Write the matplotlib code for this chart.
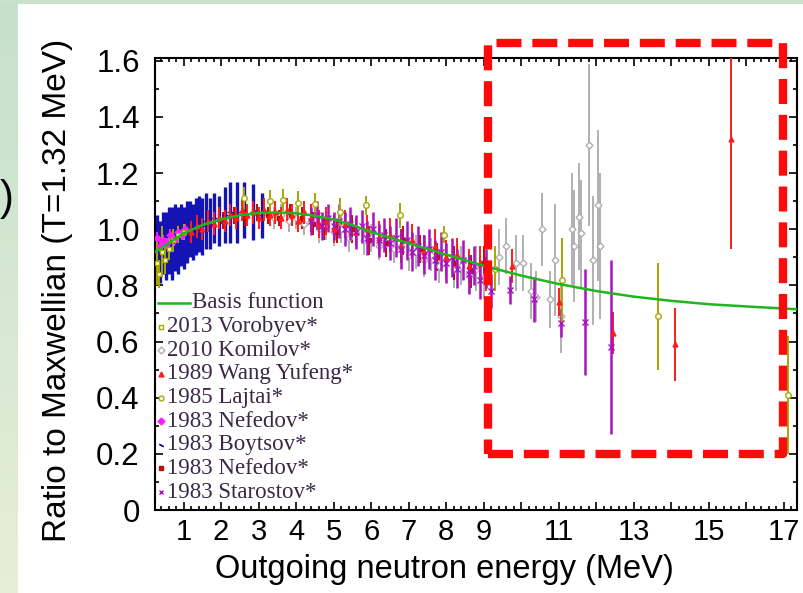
import numpy as np
import matplotlib
matplotlib.use('Agg')
import matplotlib.pyplot as plt
from matplotlib.patches import Rectangle
from matplotlib.colors import LinearSegmentedColormap
from matplotlib.ticker import FixedLocator, MultipleLocator, FuncFormatter

# Basis function (ratio of evaluated spectrum to Maxwellian)
curve_x = [0.25, 0.6, 1.0, 1.5, 2.0, 2.5, 3.0, 3.5, 4.0, 4.5, 5.0, 5.5, 6.0, 6.5,
           7.0, 7.5, 8.0, 8.5, 9.0, 10.0, 11.0, 12.0, 13.0, 14.0, 15.0, 16.0, 17.35]
curve_y = [0.92, 0.95, 0.985, 1.015, 1.035, 1.05, 1.058, 1.06, 1.057, 1.048, 1.035,
           1.015, 0.99, 0.97, 0.95, 0.93, 0.91, 0.89, 0.87, 0.835, 0.805, 0.78,
           0.76, 0.745, 0.733, 0.725, 0.715]

# 2013 Vorobyev
vor_x = [0.28, 0.34, 0.42, 0.50, 0.60, 0.72, 0.85, 1.00]
vor_y = [0.88, 0.84, 0.92, 0.89, 0.93, 0.96, 0.98, 0.99]
vor_e = [0.08, 0.05, 0.09, 0.05, 0.04, 0.04, 0.03, 0.03]

# 2010 Kornilov
kor_x = [3.4, 3.6, 3.8, 4.0, 4.2, 4.4, 4.6, 4.8, 5.0, 5.2, 5.4, 5.6, 5.8, 6.0, 6.2,
         6.4, 6.6, 6.8, 7.0, 7.2, 7.4, 7.6, 7.8, 8.0, 8.2, 8.4, 8.6, 8.8, 9.0,
         9.4, 9.6, 9.85, 10.05, 10.25, 10.4, 10.55, 10.77, 10.9, 11.05, 11.35,
         11.4, 11.54, 11.6, 11.8, 11.9, 12.04, 12.1]
kor_y = [1.04, 1.05, 1.03, 1.04, 1.02, 1.03, 1.00, 1.01, 0.99, 1.00, 0.97, 0.99,
         0.96, 0.97, 0.94, 0.95, 0.93, 0.94, 0.91, 0.92, 0.89, 0.91, 0.87, 0.89,
         0.86, 0.87, 0.84, 0.86, 0.83,
         0.90, 0.94, 0.88, 0.88, 0.78, 0.76, 1.00, 0.75, 0.89, 0.69, 1.00,
         0.94, 1.045, 0.985, 1.30, 0.89, 1.085, 0.94]
kor_e = [0.04, 0.04, 0.04, 0.04, 0.04, 0.04, 0.05, 0.05, 0.05, 0.05, 0.05, 0.05,
         0.05, 0.05, 0.05, 0.05, 0.05, 0.06, 0.06, 0.06, 0.06, 0.06, 0.06, 0.07,
         0.07, 0.07, 0.07, 0.08, 0.08,
         0.10, 0.10, 0.10, 0.10, 0.10, 0.09, 0.13, 0.10, 0.20, 0.13, 0.20,
         0.20, 0.19, 0.19, 0.29, 0.23, 0.27, 0.26]

# 1989 Wang Yufeng
wang_x = [1.2, 1.35, 1.5, 1.65, 1.8, 1.95, 2.1, 2.25, 2.4, 2.55, 2.7, 2.85, 3.0,
          3.15, 3.3, 3.45, 3.6, 3.75, 3.9, 4.05, 4.2, 4.4, 4.6, 4.8, 5.0, 5.3,
          5.6, 5.9, 6.2, 6.5, 6.8, 7.1, 7.4, 7.7, 8.0, 8.3, 8.6, 8.9, 9.05,
          9.75, 11.0, 12.45, 14.1, 15.6]
wang_y = [0.99, 1.01, 1.00, 1.03, 1.02, 1.04, 1.03, 1.05, 1.04, 1.07, 1.05, 1.06,
          1.04, 1.07, 1.05, 1.06, 1.04, 1.07, 1.05, 1.03, 1.06, 1.04, 1.02, 1.03,
          1.00, 1.02, 0.99, 1.00, 0.97, 0.98, 0.94, 0.96, 0.92, 0.94, 0.90, 0.91,
          0.87, 0.88, 0.84, 0.87, 0.74, 0.63, 0.59, 1.32]
wang_e = [0.04, 0.04, 0.04, 0.04, 0.04, 0.04, 0.04, 0.04, 0.04, 0.04, 0.04, 0.04,
          0.04, 0.04, 0.04, 0.04, 0.04, 0.04, 0.04, 0.04, 0.04, 0.05, 0.05, 0.05,
          0.05, 0.05, 0.05, 0.05, 0.06, 0.06, 0.06, 0.06, 0.06, 0.06, 0.06, 0.06,
          0.06, 0.06, 0.06, 0.06, 0.05, 0.075, 0.13, 0.39]

# 1985 Lajtai
laj_x = [2.6, 3.3, 3.65, 4.05, 4.5, 5.17, 5.87, 6.77, 7.93, 9.3, 11.1, 13.65, 17.1]
laj_y = [1.11, 1.10, 1.105, 1.095, 1.09, 1.06, 1.085, 1.05, 0.98, 0.86, 0.82, 0.69, 0.41]
laj_e = [0.04, 0.04, 0.04, 0.04, 0.04, 0.05, 0.035, 0.045, 0.03, 0.08, 0.15, 0.19, 0.21]

# 1983 Nefedov (diamonds)
nefa_x = [0.30, 0.38, 0.46, 0.55, 0.65, 0.75, 0.85, 0.95, 1.05]
nefa_y = [0.97, 0.94, 0.96, 0.95, 0.98, 0.96, 0.99, 0.98, 1.00]
nefa_e = [0.02, 0.02, 0.02, 0.02, 0.02, 0.02, 0.02, 0.02, 0.02]

# 1983 Boytsov
boy_x = [0.28, 0.36, 0.44, 0.52, 0.60, 0.68, 0.76, 0.84, 0.92, 1.00, 1.08, 1.16,
         1.24, 1.32, 1.40, 1.50, 1.60, 1.70, 1.82, 1.95, 2.10, 2.25, 2.42, 2.60,
         2.85, 3.10]
boy_y = [0.93, 0.92, 0.95, 0.94, 0.96, 0.95, 0.97, 0.96, 0.98, 0.97, 0.99, 1.00,
         0.99, 1.01, 1.02, 1.01, 1.03, 1.02, 1.04, 1.03, 1.05, 1.06, 1.06, 1.07,
         1.06, 1.05]
boy_e = [0.12, 0.11, 0.11, 0.12, 0.12, 0.13, 0.12, 0.12, 0.11, 0.11, 0.11, 0.10,
         0.10, 0.10, 0.10, 0.10, 0.10, 0.09, 0.09, 0.09, 0.10, 0.11, 0.11, 0.10,
         0.10, 0.08]

# 1983 Nefedov (squares)
nefb_x = [2.05, 2.35, 2.65, 2.95, 3.25, 3.55, 3.85, 4.15, 4.45, 4.75, 5.1, 5.5,
          5.95, 6.4, 6.85, 7.3, 7.75, 8.2, 8.65, 9.0]
nefb_y = [1.03, 1.05, 1.04, 1.06, 1.05, 1.04, 1.06, 1.04, 1.02, 1.00, 0.99, 1.00,
          0.96, 0.95, 0.96, 0.93, 0.90, 0.88, 0.85, 0.88]
nefb_e = [0.03, 0.03, 0.03, 0.03, 0.03, 0.03, 0.03, 0.04, 0.04, 0.04, 0.04, 0.05,
          0.05, 0.05, 0.05, 0.05, 0.05, 0.06, 0.06, 0.06]

# 1983 Starostov
sta_x = [4.4, 4.55, 4.7, 4.85, 5.0, 5.15, 5.3, 5.45, 5.6, 5.75, 5.9, 6.05, 6.2,
         6.35, 6.5, 6.65, 6.8, 6.95, 7.1, 7.25, 7.4, 7.55, 7.7, 7.85, 8.0, 8.15,
         8.3, 8.45, 8.6, 8.75, 8.9, 9.05, 9.2, 9.7, 10.33, 11.05, 11.7, 12.4]
sta_y = [1.03, 1.05, 1.01, 1.04, 1.01, 1.03, 1.00, 1.02, 0.99, 1.01, 0.97, 1.00,
         0.96, 0.98, 0.95, 0.97, 0.93, 0.96, 0.92, 0.94, 0.91, 0.93, 0.89, 0.92,
         0.88, 0.90, 0.86, 0.89, 0.84, 0.87, 0.82, 0.86, 0.78, 0.785, 0.75, 0.665,
         0.67, 0.58]
sta_e = [0.05, 0.05, 0.05, 0.05, 0.05, 0.06, 0.06, 0.06, 0.06, 0.06, 0.06, 0.06,
         0.06, 0.06, 0.06, 0.07, 0.07, 0.07, 0.07, 0.07, 0.07, 0.07, 0.07, 0.07,
         0.07, 0.07, 0.07, 0.07, 0.07, 0.07, 0.07, 0.07, 0.06, 0.05, 0.08, 0.05,
         0.19, 0.31]

legend_labels = ['Basis function', '2013 Vorobyev*', '2010 Komilov*', '1989 Wang Yufeng*',
                 '1985 Lajtai*', '1983 Nefedov*', '1983 Boytsov*', '1983 Nefedov*',
                 '1983 Starostov*']

x_ticks = [1, 2, 3, 4, 5, 6, 7, 8, 9, 10, 11, 12, 13, 14, 15, 16, 17]
x_labelled = [1, 2, 3, 4, 5, 6, 7, 8, 9, 11, 13, 15, 17]

GREEN = '#1fb51f'
OLIVE = '#a8a800'
GRAY = '#b0b0b0'
RED = '#ff1c1c'
MAGENTA = '#ff1cff'
BLUE = '#1414b4'
DARKRED = '#c00c0c'
PURPLE = '#a812c0'

plt.rcParams['font.family'] = ['Liberation Sans', 'DejaVu Sans']

fig = plt.figure(figsize=(8.04, 5.93), dpi=100)
fig.patch.set_facecolor('white')

# light green slide border on the left and top
bg = fig.add_axes([0, 0, 18 / 804, 1])
grad = np.linspace(0, 1, 256).reshape(-1, 1)
cmap = LinearSegmentedColormap.from_list('bord', ['#c6e0cc', '#e6efd8'])
bg.imshow(grad, aspect='auto', cmap=cmap, extent=[0, 1, 0, 1], origin='upper')
bg.axis('off')
fig.patches.append(Rectangle((0, 1 - 4 / 593), 1, 4 / 593, transform=fig.transFigure,
                             facecolor='#c8e2cc', edgecolor='none', zorder=0))
fig.text(0.0, 0.665, ')', fontsize=30, color='black', ha='left', va='center')

ax = fig.add_axes([155 / 804, 83 / 593, 642 / 804, 452 / 593])

def bars(x, y, e, color, marker, mfc, lw=1.4, ms=3.5, z=3):
    ax.errorbar(x, y, yerr=e, fmt=marker, color=color, ecolor=color, elinewidth=lw,
                capsize=0, ms=ms, mfc=mfc, mec=color, mew=1.0, zorder=z)

bars(boy_x, boy_y, boy_e, BLUE, '_', BLUE, lw=2.4, ms=4)
bars(kor_x, kor_y, kor_e, GRAY, 'D', 'white', ms=3.5)
bars(nefb_x, nefb_y, nefb_e, DARKRED, 's', DARKRED, ms=3)
bars(wang_x, wang_y, wang_e, RED, '^', RED, ms=3.5, z=4)
bars(sta_x, sta_y, sta_e, PURPLE, 'x', PURPLE, lw=1.8, ms=4, z=4)
bars(nefa_x, nefa_y, nefa_e, MAGENTA, 'D', MAGENTA, ms=3.5, z=4)
bars(vor_x, vor_y, vor_e, OLIVE, 's', 'white', ms=3.5, z=4)
bars(laj_x, laj_y, laj_e, OLIVE, 'o', 'white', ms=4, z=4)

ax.plot(curve_x, curve_y, color=GREEN, lw=1.8, zorder=5)

ax.set_xlim(0.24, 17.35)
ax.set_ylim(0, 1.61)
ax.xaxis.set_major_locator(FixedLocator(x_ticks))
ax.xaxis.set_major_formatter(FuncFormatter(lambda v, p: f'{int(round(v))}' if int(round(v)) in x_labelled else ''))
ax.xaxis.set_minor_locator(MultipleLocator(0.2))
ax.yaxis.set_major_locator(MultipleLocator(0.2))
ax.yaxis.set_minor_locator(MultipleLocator(0.1))
ax.yaxis.set_major_formatter(FuncFormatter(lambda v, p: '0' if abs(v) < 1e-9 else f'{v:.1f}'))
ax.tick_params(which='both', direction='in', top=True, right=True, width=1.2)
ax.tick_params(which='major', length=6)
ax.tick_params(axis='y', which='major', pad=11, labelsize=22.5)
ax.tick_params(axis='x', which='major', pad=6, labelsize=21)
ax.tick_params(which='minor', length=3)
for s in ax.spines.values():
    s.set_linewidth(1.5)

ax.set_xlabel('Outgoing neutron energy (MeV)', fontsize=23.5)
ax.set_ylabel('Ratio to Maxwellian (T=1.32 MeV)', fontsize=24)
ax.xaxis.set_label_coords(0.45, -0.097)
ax.yaxis.set_label_coords(-0.128, 0.487)

# legend drawn by hand inside the axes
legend_colors = [GREEN, OLIVE, GRAY, RED, OLIVE, MAGENTA, BLUE, DARKRED, PURPLE]
legend_markers = [None, 's', 'D', '^', 'o', 'D', (2, 2, 60), 's', 'x']
legend_fill = [None, 'white', 'white', RED, 'white', MAGENTA, BLUE, DARKRED, PURPLE]
row0, step = 0.458, 0.0523
for i, lab in enumerate(legend_labels):
    yy = row0 - i * step
    if legend_markers[i] is None:
        ax.plot([0.004, 0.055], [yy, yy], color=GREEN, lw=1.8, transform=ax.transAxes,
                clip_on=False, zorder=6)
        tx = 0.058
    else:
        ax.plot([0.009], [yy], marker=legend_markers[i], color=legend_colors[i],
                mfc=legend_fill[i], mec=legend_colors[i], ms=3.5, mew=1.0,
                transform=ax.transAxes, clip_on=False, zorder=6)
        tx = 0.018
    ax.text(tx, yy, lab, transform=ax.transAxes, fontsize=16.5, color='#3a2846',
            family=['Liberation Serif', 'DejaVu Serif'], va='center', ha='left', zorder=6)

# highlighted region
ax.add_patch(Rectangle((9.12, 0.2), 16.98 - 9.12, 1.664 - 0.2, fill=False,
                       edgecolor='#ff0a0a', lw=6, linestyle=(0, (3, 1.3)),
                       joinstyle='round', clip_on=False, zorder=7))

fig.savefig('out.png', dpi=100)
